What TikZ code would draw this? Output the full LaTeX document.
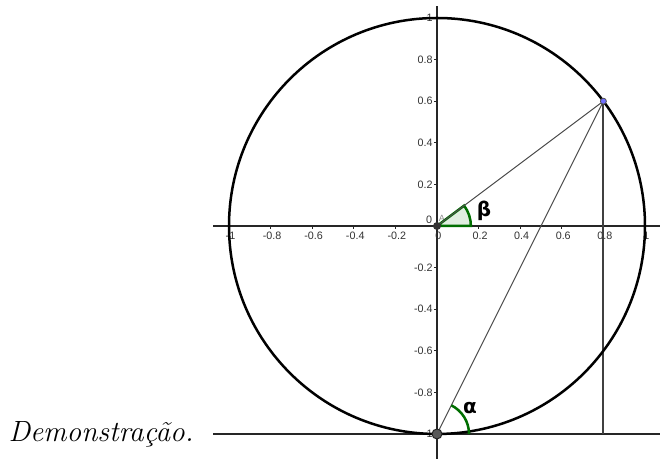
\documentclass[tikz,border=0pt]{standalone}
\usepackage{fontspec}
\newfontfamily\tickfont{Liberation Sans}
\newfontfamily\grkfont{DejaVu Sans}
\definecolor{ggreen}{RGB}{0,110,0}
\definecolor{ptblue}{RGB}{110,110,255}
\begin{document}
\begin{tikzpicture}[x=83.2pt,y=83.2pt,
  axis/.style={line width=0.45pt,draw=black!85},
  ticklab/.style={font=\tickfont\fontsize{4.3}{5}\selectfont,text=black!80,inner sep=0pt},
  seg/.style={line width=0.4pt,draw=black!70},
  angfill/.style={draw=ggreen,line width=1pt,fill=ggreen!12},
  angarc/.style={draw=ggreen,line width=1pt},
  greek/.style={font=\grkfont\bfseries\fontsize{8}{9}\selectfont,inner sep=0pt}]
\useasboundingbox (-2.1010,-1.1202) rectangle (1.0721,1.0865);
% coordinates
\coordinate (O) at (0,0);
\coordinate (P) at (0.8,0.6);
\coordinate (S) at (0,-1);
\coordinate (F) at (0.8,-1);
\coordinate (xl) at (-1.0769,0);
\coordinate (xr) at (1.0721,0);
\coordinate (yt) at (0,1.0577);
\coordinate (yb) at (0,-1.1202);
\coordinate (bl) at (-1.0769,-1);
\coordinate (br) at (1.0721,-1);
% axes
\draw[axis] (xl) -- (xr);
\draw[axis] (yb) -- (yt);
\draw[axis] (bl) -- (br);
% x ticks and labels
\foreach \v/\t in {-1/-1,-0.8/-0.8,-0.6/-0.6,-0.4/-0.4,-0.2/-0.2,0/0,0.2/0.2,0.4/0.4,0.6/0.6,0.8/0.8,1/1}{
  \draw[axis] (\v,0) -- (\v,-0.0144);
  \node[ticklab] (xt\t) at (\v+0.007,-0.048) {\t};
}
% y ticks and labels
\foreach \v/\t in {1/1,0.8/0.8,0.6/0.6,0.4/0.4,0.2/0.2,-0.2/-0.2,-0.4/-0.4,-0.6/-0.6,-0.8/-0.8,-1/-1}{
  \draw[axis] (0,\v) -- (-0.0144,\v);
  \node[ticklab,anchor=east] (yl\t) at (-0.019,\v) {\t};
}
\node[ticklab] (zero) at (-0.038,0.029) {0};
\node[ticklab,text=black!45,font=\tickfont\fontsize{3.6}{4}\selectfont] (Alab) at (0.024,0.038) {A};
% angle beta
\draw[angfill] (O) -- (0.163,0) arc[start angle=0,end angle=36.87,radius=0.163] -- cycle;
% segments
\draw[seg] (O) -- (P);
\draw[seg] (S) -- (P);
\draw[line width=0.8pt,draw=black!75] (P) -- (F);
% circle
\draw[line width=1pt] (O) circle[radius=1];
% angle alpha
\draw[angarc] (0.154,-1) arc[start angle=0,end angle=63.43,radius=0.154];
% greek labels
\node[greek] (beta) at (0.226,0.072) {β};
\node[greek] (alpha) at (0.159,-0.875) {α};
% points
\fill[black!80] (O) circle[radius=1.6pt];
\filldraw[fill=black!65,draw=black!85,line width=0.4pt] (S) circle[radius=2pt];
\filldraw[fill=ptblue,draw=black!70,line width=0.3pt] (P) circle[radius=1.2pt];
% caption
\node[anchor=base west,inner sep=0pt,font=\fontsize{11.7}{14}\selectfont] (demo) at (-2.0625,-1.0385) {\itshape Demonstração.};
\end{tikzpicture}
\end{document}
